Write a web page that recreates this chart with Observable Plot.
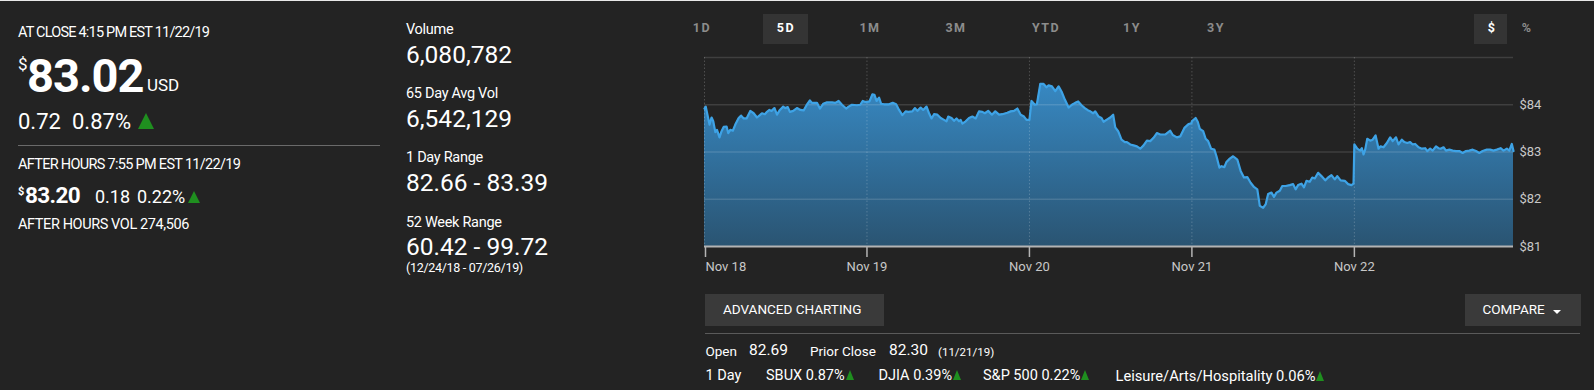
<!DOCTYPE html>
<html>
<head>
<meta charset="utf-8">
<script src="https://cdn.jsdelivr.net/npm/d3@7"></script>
<script src="https://cdn.jsdelivr.net/npm/@observablehq/plot@0.6"></script>
<style>
  html, body { margin: 0; padding: 0; }
  body { width: 1594px; height: 390px; background: #232323; overflow: hidden; position: relative;
         font-family: Roboto, "Noto Sans", sans-serif; color: #fff; border-top: 1px solid #e8e8e8; box-sizing: border-box; }
  .t { position: absolute; line-height: 1; white-space: nowrap; }
  .tab { position: absolute; width: 60px; text-align: center; font-weight: 700; font-size: 12.5px; letter-spacing: 1.5px; color: #8c8c8c; line-height: 1; top: 20.5px; }
  .up { display: inline-block; width: 0; height: 0; border-left: 4px solid transparent; border-right: 4px solid transparent; border-bottom: 10px solid #1f8f1f; margin-left: 1px; }
  #chart { position: absolute; left: 690px; top: 48px; }
</style>
</head>
<body>
<!-- left panel -->
<div class="t" style="left:18px;top:25px;font-size:14.5px;letter-spacing:-0.8px">AT CLOSE 4:15 PM EST 11/22/19</div>
<div class="t" style="left:18px;top:55px;font-size:17px">$</div>
<div class="t" style="left:27px;top:51px;font-size:47px;font-weight:700;letter-spacing:-1px">83.02</div>
<div class="t" style="left:147px;top:76px;font-size:17px">USD</div>
<div class="t" style="left:18px;top:110px;font-size:22px">0.72</div>
<div class="t" style="left:72px;top:110px;font-size:22px">0.87%</div>
<div style="position:absolute;left:138px;top:112px;width:0;height:0;border-left:8.5px solid transparent;border-right:8.5px solid transparent;border-bottom:16.5px solid #1f8f1f"></div>
<div style="position:absolute;left:18px;top:144px;width:362px;height:1px;background:#6a6a6a"></div>
<div class="t" style="left:18px;top:157px;font-size:14.5px;letter-spacing:-0.7px">AFTER HOURS 7:55 PM EST 11/22/19</div>
<div class="t" style="left:18px;top:185px;font-size:11px;font-weight:700">$</div>
<div class="t" style="left:25px;top:183px;font-size:22.5px;font-weight:700;letter-spacing:-0.6px">83.20</div>
<div class="t" style="left:95px;top:187px;font-size:18px">0.18</div>
<div class="t" style="left:137px;top:187px;font-size:18px">0.22%</div>
<div style="position:absolute;left:188px;top:190px;width:0;height:0;border-left:6.5px solid transparent;border-right:6.5px solid transparent;border-bottom:12.5px solid #1f8f1f"></div>
<div class="t" style="left:18px;top:217px;font-size:14.5px;letter-spacing:-0.4px">AFTER HOURS VOL 274,506</div>

<!-- middle column -->
<div class="t" style="left:406px;top:22px;font-size:14.5px;letter-spacing:-0.3px">Volume</div>
<div class="t" style="left:406px;top:42px;font-size:24.5px">6,080,782</div>
<div class="t" style="left:406px;top:86px;font-size:14.5px;letter-spacing:-0.3px">65 Day Avg Vol</div>
<div class="t" style="left:406px;top:106px;font-size:24.5px">6,542,129</div>
<div class="t" style="left:406px;top:150px;font-size:14.5px;letter-spacing:-0.3px">1 Day Range</div>
<div class="t" style="left:406px;top:170px;font-size:24.5px">82.66 - 83.39</div>
<div class="t" style="left:406px;top:215px;font-size:14.5px;letter-spacing:-0.3px">52 Week Range</div>
<div class="t" style="left:406px;top:234px;font-size:24.5px">60.42 - 99.72</div>
<div class="t" style="left:406px;top:261px;font-size:12.5px;letter-spacing:-0.3px">(12/24/18 - 07/26/19)</div>

<!-- range tabs -->
<div style="position:absolute;left:763px;top:13px;width:45px;height:30px;background:#343434"></div>
<div style="position:absolute;left:1474px;top:13px;width:33px;height:30px;background:#343434"></div>
<div class="tab" style="left:672px">1D</div>
<div class="tab" style="left:756px;color:#fff">5D</div>
<div class="tab" style="left:840px">1M</div>
<div class="tab" style="left:926px">3M</div>
<div class="tab" style="left:1016px">YTD</div>
<div class="tab" style="left:1102px">1Y</div>
<div class="tab" style="left:1186px">3Y</div>
<div class="tab" style="left:1462px;color:#fff">$</div>
<div class="tab" style="left:1497px">%</div>

<div id="chart"></div>

<!-- bottom controls -->
<div style="position:absolute;left:705px;top:293px;width:179px;height:32px;background:#3a3a3a"></div>
<div class="t" style="left:723px;top:301.5px;font-size:13.5px">ADVANCED CHARTING</div>
<div style="position:absolute;left:1465px;top:293px;width:116px;height:32px;background:#3a3a3a"></div>
<div class="t" style="left:1482.5px;top:301.5px;font-size:13.5px">COMPARE</div>
<div style="position:absolute;left:1553px;top:309px;width:0;height:0;border-left:4.5px solid transparent;border-right:4.5px solid transparent;border-top:4.5px solid #fff"></div>
<div style="position:absolute;left:705px;top:331.5px;width:875px;height:1px;background:#5a5a5a"></div>
<div class="t" style="left:705.5px;top:343.5px;font-size:13.5px">Open</div>
<div class="t" style="left:749px;top:342px;font-size:15.5px">82.69</div>
<div class="t" style="left:810px;top:343.5px;font-size:13.5px">Prior Close</div>
<div class="t" style="left:889px;top:342px;font-size:15.5px">82.30</div>
<div class="t" style="left:938px;top:345.5px;font-size:11.5px">(11/21/19)</div>
<div class="t" style="left:705.5px;top:368px;font-size:14.5px">1 Day</div>
<div class="t" style="left:766px;top:368px;font-size:14.5px">SBUX 0.87%<span class="up"></span></div>
<div class="t" style="left:878.5px;top:368px;font-size:14.5px">DJIA 0.39%<span class="up"></span></div>
<div class="t" style="left:983px;top:368px;font-size:14.5px">S&amp;P 500 0.22%<span class="up"></span></div>
<div class="t" style="left:1115.5px;top:368px;font-size:14.7px">Leisure/Arts/Hospitality 0.06%<span class="up"></span></div>

<script>
// ---- data ----
const dayLabels = ["Nov 18", "Nov 19", "Nov 20", "Nov 21", "Nov 22"];
const priceTicks = [81, 82, 83, 84];
const gridPrices = [82, 83, 84, 85];
const sessionMinutes = 390; // 9:30 - 16:00

// [minutes after open, price]
const nov18 = [[0,83.92],[3,83.96],[12,83.58],[17,83.73],[21,83.65],[26,83.42],[30,83.47],[36,83.31],[41,83.44],[46,83.53],[53,83.54],[57,83.40],[62,83.47],[68,83.45],[74,83.58],[82,83.72],[88,83.77],[94,83.71],[101,83.71],[110,83.87],[118,83.82],[126,83.73],[133,83.78],[138,83.82],[145,83.80],[150,83.85],[156,83.89],[161,83.87],[168,83.93],[174,83.79],[181,83.89],[189,83.96],[194,83.93],[200,83.95],[205,83.85],[213,83.87],[222,83.93],[230,83.89],[238,83.88],[245,83.99],[253,84.09],[258,84.04],[270,84.04],[277,83.92],[285,84.02],[294,84.05],[306,84.05],[314,84.04],[322,84.08],[330,84.00],[340,83.92],[346,83.96],[354,84.00],[366,83.99],[374,84.00],[380,84.08],[386,84.06]];
const nov19 = [[0,84.06],[6,84.07],[13,84.22],[18,84.21],[23,84.08],[29,84.15],[34,84.02],[41,84.01],[53,84.01],[62,84.04],[70,84.01],[77,83.89],[85,83.78],[93,83.86],[99,83.85],[109,83.86],[115,83.93],[121,83.87],[129,83.94],[135,83.89],[143,83.96],[149,83.82],[155,83.71],[161,83.80],[169,83.79],[177,83.72],[185,83.68],[191,83.65],[195,83.75],[203,83.72],[209,83.66],[215,83.71],[221,83.65],[225,83.68],[229,83.60],[237,83.65],[245,83.72],[253,83.75],[261,83.71],[269,83.86],[277,83.85],[283,83.82],[291,83.87],[300,83.79],[308,83.86],[317,83.79],[325,83.80],[337,83.83],[345,83.86],[353,83.87],[361,83.92],[369,83.79],[377,83.75],[383,83.68],[389,83.68]];
const nov20 = [[0,83.68],[5,84.08],[13,84.00],[18,84.01],[26,84.44],[34,84.44],[41,84.37],[46,84.41],[54,84.39],[62,84.29],[70,84.39],[77,84.28],[85,84.11],[94,83.94],[102,84.00],[110,84.04],[117,84.07],[125,83.99],[133,83.93],[141,83.88],[146,83.86],[153,83.82],[158,83.86],[166,83.75],[173,83.72],[178,83.64],[185,83.68],[194,83.73],[201,83.79],[206,83.52],[213,83.44],[221,83.26],[229,83.21],[234,83.21],[242,83.16],[250,83.14],[258,83.12],[266,83.07],[274,83.14],[282,83.24],[290,83.23],[298,83.30],[306,83.40],[314,83.37],[326,83.37],[338,83.45],[344,83.36],[354,83.31],[362,83.33],[372,83.51],[382,83.59],[389,83.61]];
const nov21 = [[0,83.65],[9,83.72],[14,83.64],[19,83.49],[27,83.44],[33,83.28],[39,83.23],[46,83.07],[54,83.05],[59,82.91],[66,82.67],[71,82.70],[78,82.68],[83,82.79],[91,82.86],[99,82.91],[109,82.84],[117,82.60],[125,82.46],[133,82.47],[141,82.35],[149,82.26],[157,82.21],[163,81.86],[171,81.82],[177,81.89],[183,82.11],[191,82.14],[197,82.05],[203,82.14],[211,82.18],[217,82.28],[225,82.28],[235,82.30],[243,82.32],[249,82.21],[255,82.30],[263,82.33],[269,82.25],[275,82.39],[283,82.37],[289,82.46],[295,82.44],[303,82.56],[311,82.49],[320,82.40],[327,82.46],[335,82.51],[343,82.42],[349,82.49],[357,82.40],[367,82.39],[375,82.32],[383,82.30],[388,82.33]];
const nov22 = [[0,83.16],[7,83.07],[14,83.03],[18,83.08],[22,82.95],[26,83.05],[31,83.28],[38,83.24],[44,83.26],[51,83.35],[58,83.07],[63,83.12],[70,83.10],[78,83.19],[86,83.31],[92,83.23],[100,83.31],[106,83.16],[114,83.26],[120,83.21],[127,83.19],[134,83.21],[140,83.16],[146,83.17],[154,83.10],[162,83.07],[170,83.08],[175,83.02],[182,83.07],[188,83.03],[196,83.12],[202,83.08],[207,83.07],[214,83.10],[220,83.03],[228,83.05],[236,83.03],[244,83.02],[252,83.02],[260,82.98],[268,83.02],[276,83.03],[284,83.05],[292,83.02],[300,82.98],[308,83.02],[318,83.05],[326,83.05],[334,83.03],[342,83.05],[351,83.08],[358,83.03],[366,83.07],[372,83.03],[378,83.17],[382,83.02]];

const sessions = [nov18, nov19, nov20, nov21, nov22];
const data = sessions.flatMap((s, i) => s.map(([m, p]) => ({t: i + m / sessionMinutes, price: p})));
const dayIdx = dayLabels.map((_, i) => i);

const gradient = () => {
  const defs = d3.create("svg:defs");
  const g = defs.append("linearGradient").attr("id", "pxgrad")
    .attr("x1", 0).attr("y1", 0).attr("x2", 0).attr("y2", 1);
  g.append("stop").attr("offset", "0%").attr("stop-color", "#3788c2");
  g.append("stop").attr("offset", "100%").attr("stop-color", "#2a5472");
  return defs.node();
};

const chart = Plot.plot({
  width: 904,
  height: 230,
  marginLeft: 14,
  marginRight: 81,
  marginTop: 8,
  marginBottom: 33,
  style: {background: "transparent", color: "#c8c8c8", fontFamily: "Roboto, sans-serif", fontSize: "13px", overflow: "visible"},
  x: {domain: [0, d3.max(data, d => d.t)], axis: null},
  y: {domain: [81, 85], axis: null},
  marks: [
    gradient,
    Plot.areaY(data, {x: "t", y1: 81, y2: "price", fill: "url(#pxgrad)"}),
    Plot.gridY(gridPrices, {stroke: "#fff", strokeOpacity: 0.13, strokeWidth: 1.5}),
    Plot.gridX(dayIdx, {stroke: "#fff", strokeOpacity: 0.2, strokeDasharray: "1.5,2"}),
    Plot.lineY(data, {x: "t", y: "price", stroke: "#3ea3e6", strokeWidth: 2.2}),
    Plot.ruleY([81], {stroke: "#b4b4b4", strokeWidth: 2}),
    Plot.axisX([dayIdx[0]], {label: null, tickSize: 11, tickPadding: 4, stroke: "#b4b4b4", strokeWidth: 1.5, textAnchor: "start", dx: 1, tickFormat: i => dayLabels[i], fill: "#c8c8c8"}),
    Plot.axisX(dayIdx.slice(1), {label: null, tickSize: 11, tickPadding: 4, stroke: "#b4b4b4", strokeWidth: 1.5, tickFormat: i => dayLabels[i], fill: "#c8c8c8"}),
    Plot.axisY(priceTicks, {label: null, anchor: "right", tickSize: 0, tickPadding: 6, textAnchor: "start", tickFormat: d => "$" + d, fill: "#c8c8c8"})
  ]
});
document.getElementById("chart").appendChild(chart);
</script>
</body>
</html>
